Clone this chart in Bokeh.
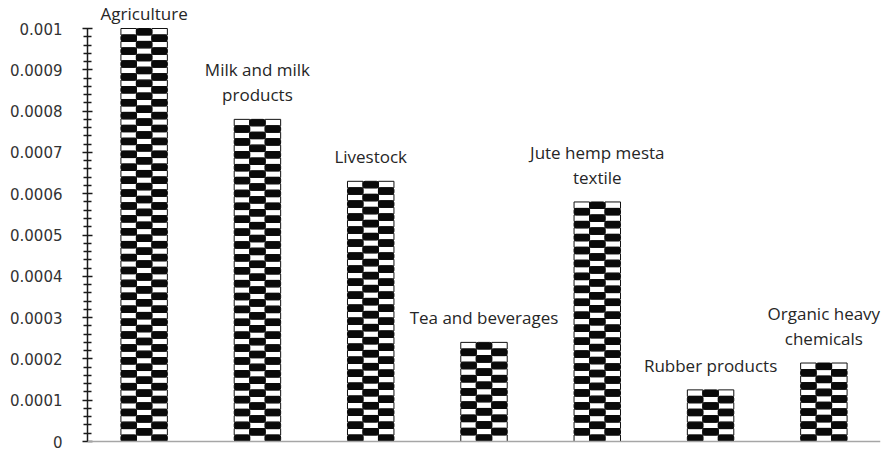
from bokeh.plotting import figure
from bokeh.models import Range1d, FixedTicker, Span, ColumnDataSource
from bokeh.core.properties import value
from bokeh.embed import file_html
from bokeh.resources import INLINE

# Sector shares (one bar per sector)
categories = [
    "Agriculture",
    "Milk and milk\nproducts",
    "Livestock",
    "Tea and beverages",
    "Jute hemp mesta\ntextile",
    "Rubber products",
    "Organic heavy\nchemicals",
]
values = [0.001, 0.00078, 0.00063, 0.00024, 0.00058, 0.000125, 0.00019]

tick_values = [0, 0.0001, 0.0002, 0.0003, 0.0004, 0.0005,
               0.0006, 0.0007, 0.0008, 0.0009, 0.001]
tick_labels = ["0", "0.0001", "0.0002", "0.0003", "0.0004", "0.0005",
               "0.0006", "0.0007", "0.0008", "0.0009", "0.001"]

# Page layout (pixels)
W, H = 887, 450
LEFT, RIGHT, BOTTOM = 87, 7, 4
TOP_TICK_PX = 28      # screen row of the highest tick
ZERO_PX = 441         # screen row of the value axis origin

y_max = tick_values[-1]
units_per_px = y_max / (ZERO_PX - TOP_TICK_PX)
y_start = -(H - BOTTOM - ZERO_PX) * units_per_px
y_end = y_max + TOP_TICK_PX * units_per_px

p = figure(width=W, height=H, output_backend="svg", toolbar_location=None,
           x_range=Range1d(0, len(values)), y_range=Range1d(y_start, y_end),
           min_border_left=LEFT, min_border_right=RIGHT,
           min_border_top=0, min_border_bottom=BOTTOM)
p.outline_line_color = None
p.background_fill_color = "white"
p.border_fill_color = "white"
p.xgrid.visible = False
p.ygrid.visible = False
p.xaxis.visible = False

# Value axis with crossing major and minor ticks
minor = []
for a, b in zip(tick_values[:-1], tick_values[1:]):
    minor += [a + (b - a) * f / 5 for f in range(1, 5)]
yax = p.yaxis[0]
yax.ticker = FixedTicker(ticks=tick_values, minor_ticks=minor)
yax.major_label_overrides = {t: s for t, s in zip(tick_values, tick_labels)}
yax.bounds = (0, y_max)
yax.axis_line_color = "#1a1a1a"
yax.axis_line_width = 1.5
yax.major_tick_line_color = "#1a1a1a"
yax.major_tick_line_width = 1.5
yax.major_tick_in = 5
yax.major_tick_out = 5
yax.minor_tick_line_color = "#1a1a1a"
yax.minor_tick_line_width = 1.5
yax.minor_tick_in = 4
yax.minor_tick_out = 4
yax.major_label_standoff = 20
yax.major_label_text_font = "DejaVu Sans"
yax.major_label_text_font_size = "15px"
yax.major_label_text_color = "#333333"

# Category axis line along the origin
p.add_layout(Span(location=0, dimension="width", line_color="#a6a6a6",
                  line_width=1.5))

# Checkered bar fill: three columns of alternating black / white cells
n_cols = 3
bar_w = 0.41
row_px = 6.5
white = dict(left=[], right=[], bottom=[], top=[])
black = dict(left=[], right=[], bottom=[], top=[])
for i, v in enumerate(values):
    n_rows = max(1, round(v / (row_px * units_per_px)))
    rh = v / n_rows
    cw = bar_w / n_cols
    x0 = i + 0.5 - bar_w / 2
    for j in range(n_rows):
        top = v - j * rh
        for k in range(n_cols):
            d = black if (j + k) % 2 == 1 else white
            d["left"].append(x0 + k * cw)
            d["right"].append(x0 + (k + 1) * cw)
            d["top"].append(top)
            d["bottom"].append(top - rh)

p.quad(source=ColumnDataSource(white), left="left", right="right",
       bottom="bottom", top="top", fill_color="white",
       line_color="#111111", line_width=1)
p.quad(source=ColumnDataSource(black), left="left", right="right",
       bottom="bottom", top="top", fill_color="#0a0a0a",
       line_color="#0a0a0a", line_width=1, border_radius=2)

# Category labels above each bar, kept inside the chart at the top
label_offsets = [-4 if v >= y_max else -13 for v in values]
p.text(x=[i + 0.5 for i in range(len(values))], y=values, text=categories,
       y_offset=label_offsets, text_align="center", text_baseline="bottom",
       text_font=value("Open Sans"), text_font_size="17px",
       text_color="#262626", text_line_height=1.1)

open("out.html", "w").write(file_html(p, INLINE))
